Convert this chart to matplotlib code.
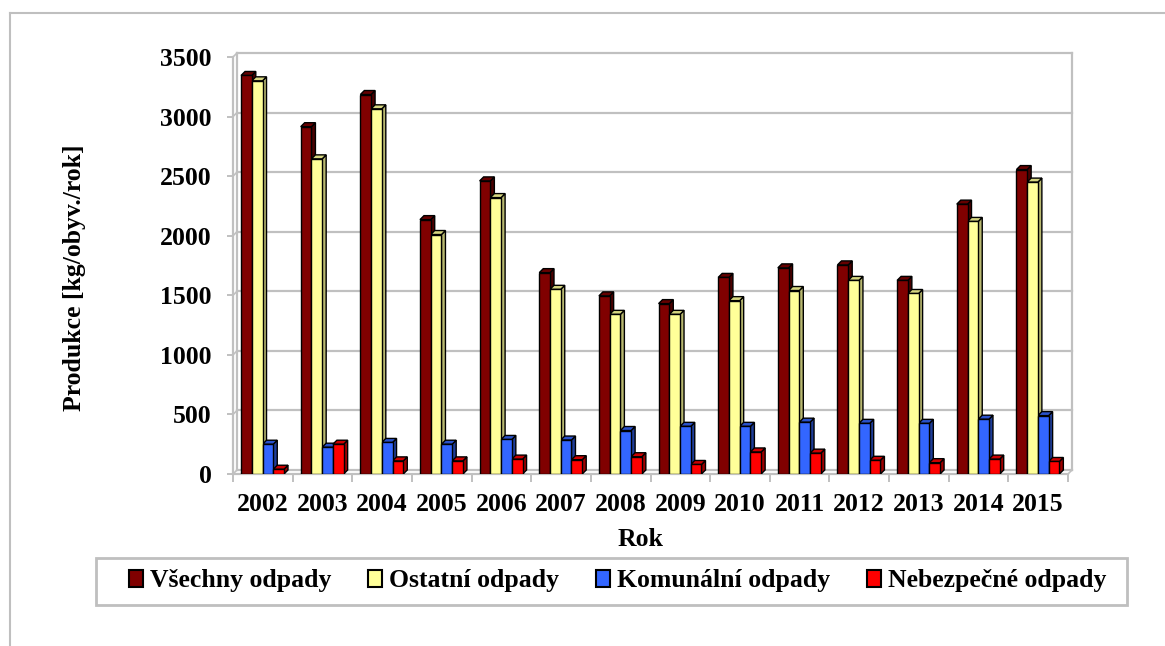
import matplotlib
matplotlib.use("Agg")
import matplotlib.pyplot as plt
import matplotlib.transforms as mtransforms
from matplotlib.patches import Polygon, Patch, Rectangle
from matplotlib.lines import Line2D
import numpy as np

years = ["2002", "2003", "2004", "2005", "2006", "2007", "2008", "2009",
         "2010", "2011", "2012", "2013", "2014", "2015"]
vsechny = [3345, 2915, 3185, 2135, 2460, 1690, 1495, 1430, 1650, 1730, 1755, 1625, 2265, 2555]
ostatni = [3300, 2645, 3065, 2010, 2320, 1550, 1340, 1340, 1455, 1540, 1625, 1515, 2120, 2450]
komunalni = [250, 225, 265, 250, 290, 285, 365, 400, 400, 435, 425, 425, 460, 490]
nebezpecne = [40, 250, 110, 110, 125, 120, 145, 80, 185, 175, 115, 95, 125, 105]

series_names = ["Všechny odpady", "Ostatní odpady", "Komunální odpady", "Nebezpečné odpady"]
series_values = [vsechny, ostatni, komunalni, nebezpecne]
face_colors = ["#800000", "#FFFF99", "#3366FF", "#FF0000"]
side_colors = ["#4A0000", "#B8B870", "#1F3D99", "#A00000"]
top_colors = ["#660000", "#D6D680", "#2A52CC", "#CC0000"]

FONT = "Liberation Serif"
FS = 18.5
W, H, DPI = 1165, 646, 100
fig = plt.figure(figsize=(W / DPI, H / DPI), dpi=DPI)
fig.patch.set_facecolor("white")

left_px, right_px, bottom_px, top_px = 233, 1068, 474, 57
ax = fig.add_axes([left_px / W, 1 - bottom_px / H, (right_px - left_px) / W, (bottom_px - top_px) / H])
ax.set_facecolor("none")

n = len(years)
ymax = 3500
ax.set_xlim(0, n)
ax.set_ylim(0, ymax)

depth_px = 4.0
dx = depth_px / ((right_px - left_px) / n)
dy = depth_px / ((bottom_px - top_px) / ymax)

grid_col = "#C0C0C0"
back = mtransforms.offset_copy(ax.transData, fig=fig, x=depth_px, y=depth_px, units="dots")

# back wall grid and edges
yticks = np.arange(0, ymax + 1, 500)
for yv in yticks:
    ax.plot([0, n], [yv, yv], color=grid_col, lw=1.6, transform=back, zorder=0.5, clip_on=False)
    ax.plot([0, dx], [yv, yv + dy], color=grid_col, lw=1.2, zorder=0.5, clip_on=False)
ax.plot([0, 0], [0, ymax], color=grid_col, lw=1.6, transform=back, zorder=0.5, clip_on=False)
ax.plot([n, n], [0, ymax], color=grid_col, lw=1.6, transform=back, zorder=0.5, clip_on=False)
ax.plot([n, n + dx], [0, dy], color=grid_col, lw=1.2, zorder=0.5, clip_on=False)

# bars with pseudo-3D faces
bw = 0.18
start = 0.135
for s, vals in enumerate(series_values):
    xs = np.arange(n) + start + s * bw
    ax.bar(xs, vals, width=bw, align="edge", color=face_colors[s], edgecolor="black",
           linewidth=1.0, zorder=3 + s * 0.01)
    for x0, h in zip(xs, vals):
        x1 = x0 + bw
        side = Polygon([(x1, 0), (x1 + dx, dy), (x1 + dx, h + dy), (x1, h)], closed=True,
                       facecolor=side_colors[s], edgecolor="black", lw=1.0, zorder=2.9 + s * 0.01)
        top = Polygon([(x0, h), (x0 + dx, h + dy), (x1 + dx, h + dy), (x1, h)], closed=True,
                      facecolor=top_colors[s], edgecolor="black", lw=1.0, zorder=2.9 + s * 0.01)
        ax.add_patch(side)
        ax.add_patch(top)

# spines
for sp in ["top", "right"]:
    ax.spines[sp].set_visible(False)
for sp in ["left", "bottom"]:
    ax.spines[sp].set_color(grid_col)
    ax.spines[sp].set_linewidth(1.6)
    ax.spines[sp].set_zorder(1)

ax.set_yticks(yticks)
ax.set_yticklabels([str(int(v)) for v in yticks])
ax.tick_params(axis="y", length=4.5, width=1.4, color=grid_col, pad=11,
               labelsize=FS)
ax.set_xticks(np.arange(n) + 0.5)
ax.set_xticklabels(years)
ax.set_xticks(np.arange(n + 1), minor=True)
ax.tick_params(axis="x", which="major", length=0, pad=14, labelsize=FS)
ax.tick_params(axis="x", which="minor", length=6, width=1.4, color=grid_col)
for lab in ax.get_xticklabels() + ax.get_yticklabels():
    lab.set_fontfamily(FONT)
    lab.set_fontweight("bold")

fig.text(75 / W, 1 - 278 / H, "Produkce [kg/obyv./rok]", rotation=90, ha="center", va="center",
         fontsize=FS, fontweight="bold", family=FONT)
fig.text(641 / W, 1 - 540 / H, "Rok", ha="center", va="center",
         fontsize=FS, fontweight="bold", family=FONT)

# outer frame
fig.add_artist(Line2D([10 / W, 1.0], [1 - 13 / H, 1 - 13 / H], transform=fig.transFigure,
                      color="#BFBFBF", lw=1.5))
fig.add_artist(Line2D([10 / W, 10 / W], [0, 1 - 13 / H], transform=fig.transFigure,
                      color="#BFBFBF", lw=1.5))

# legend box
fig.add_artist(Rectangle((96 / W, 1 - 605 / H), (1127 - 96) / W, (605 - 558) / H,
                         transform=fig.transFigure, facecolor="white",
                         edgecolor="#BFBFBF", lw=2))
handles = [Patch(facecolor=c, edgecolor="black", lw=1.5) for c in face_colors]
leg = fig.legend(handles, series_names, loc="center",
                 bbox_to_anchor=((128 + 1107) / 2 / W, 1 - 581 / H), ncol=4,
                 prop={"family": FONT, "weight": "bold", "size": FS},
                 handlelength=0.55, handleheight=0.6, handletextpad=0.25,
                 columnspacing=1.45, frameon=False, borderpad=0.0)

fig.savefig("out.png", dpi=DPI)
